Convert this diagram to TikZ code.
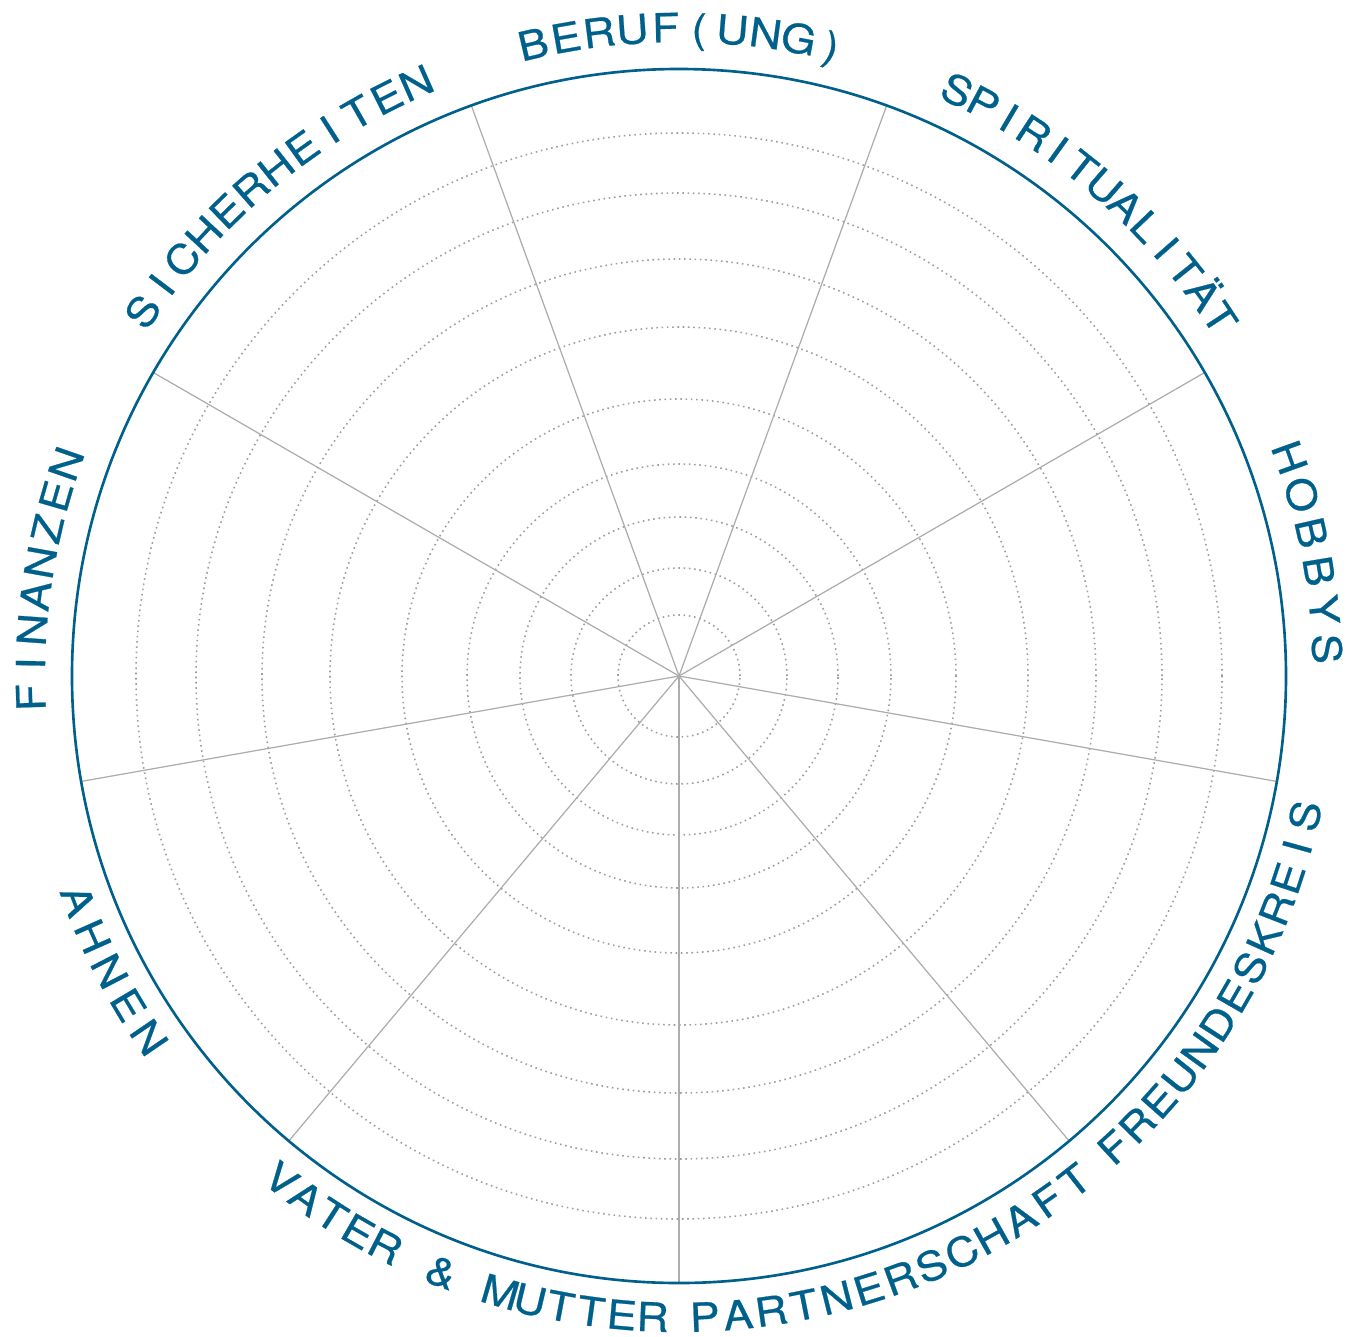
\documentclass[tikz,border=0pt]{standalone}
\usepackage{fontspec}
\newfontfamily\wheelfont[FakeStretch=1.12,FakeBold=0.6]{TeX Gyre Heros}
\newcommand\labelfont{\wheelfont\fontsize{11.4pt}{13pt}\selectfont}
\definecolor{wheelblue}{RGB}{0,96,140}
\definecolor{ringgray}{RGB}{158,158,158}
\definecolor{spokegray}{RGB}{172,172,172}
\tikzset{ring/.style={ringgray,line width=0.45pt,dash pattern=on 0.45pt off 1.05pt},
            spoke/.style={spokegray,line width=0.35pt},
            rim/.style={wheelblue,line width=0.75pt},
            wheel letter/.style={anchor=base,inner sep=0pt,font=\labelfont,text=wheelblue},
            }
% letters set one by one along an arc: name, radius, start, end, direction (-1 cw, 1 ccw), letters
\newlength\arcw
\newcommand\arclabel[6]{%
  \gdef\arctotal{0}\gdef\arccount{0}%
  \foreach \ch in {#6}{%
    \settowidth\arcw{\labelfont\ch}%
    \pgfmathsetmacro\tmp{\arctotal+\arcw}\xdef\arctotal{\tmp}%
    \pgfmathsetmacro\tmp{\arccount+1}\xdef\arccount{\tmp}}%
  \pgfmathsetmacro\arcrad{#2*28.45274}%
  \pgfmathsetmacro\arcgap{(\arcrad*abs(#4-#3)/180*pi-\arctotal)/(\arccount-1)}%
  \gdef\arcacc{0}%
  \foreach \ch [count=\i] in {#6}{%
    \settowidth\arcw{\labelfont\ch}%
    \pgfmathsetmacro\ang{#3+(#5)*(\arcacc+\arcw/2)/\arcrad*180/pi}%
    \node[wheel letter,rotate=\ang+(#5)*90] (#1-\i) at (\ang:#2) {\ch};
    \pgfmathsetmacro\tmp{\arcacc+\arcw+\arcgap}\xdef\arcacc{\tmp}}%
}
\begin{document}
\begin{tikzpicture}
    \useasboundingbox (-6.79,-6.60) rectangle (6.78,6.76);
    \coordinate (c) at (0,0);

    \foreach \r in {0.61,1.08,1.59,2.12,2.77,3.49,4.17,4.83,5.43}
        \draw[ring] (c) circle[radius=\r];
    \foreach \a in {110,70,30,-10,-50,-90,-130,-170,150}
        \draw[spoke] (c) -- (\a:6.07);
    \draw[rim] (c) circle[radius=6.07];

    % upper half, read clockwise
    \arclabel{beruf}{6.34}{103}{76.4}{-1}{B,E,R,U,F,{(},U,N,G,{)}}
    \arclabel{spirit}{6.34}{64.6}{33.5}{-1}{S,P,I,R,I,T,U,A,L,I,T,Ä,T}
    \arclabel{hobbys}{6.34}{19.7}{2.4}{-1}{H,O,B,B,Y,S}
    \arclabel{finanzen}{6.34}{181.9}{160.9}{-1}{F,I,N,A,N,Z,E,N}
    \arclabel{sicher}{6.34}{145.8}{113.9}{-1}{S,I,C,H,E,R,H,E,I,T,E,N}

    % lower half, read counterclockwise
    \arclabel{freunde}{6.56}{-47.3}{-12.6}{1}{F,R,E,U,N,D,E,S,K,R,E,I,S}
    \arclabel{partner}{6.56}{-87.7}{-51.9}{1}{P,A,R,T,N,E,R,S,C,H,A,F,T}
    \arclabel{eltern}{6.56}{-128.3}{-92.35}{1}{V,A,T,E,R,\ ,\&,\ ,M,U,T,T,E,R}
    \arclabel{ahnen}{6.56}{-159.5}{-145.7}{1}{A,H,N,E,N}
\end{tikzpicture}
\end{document}
